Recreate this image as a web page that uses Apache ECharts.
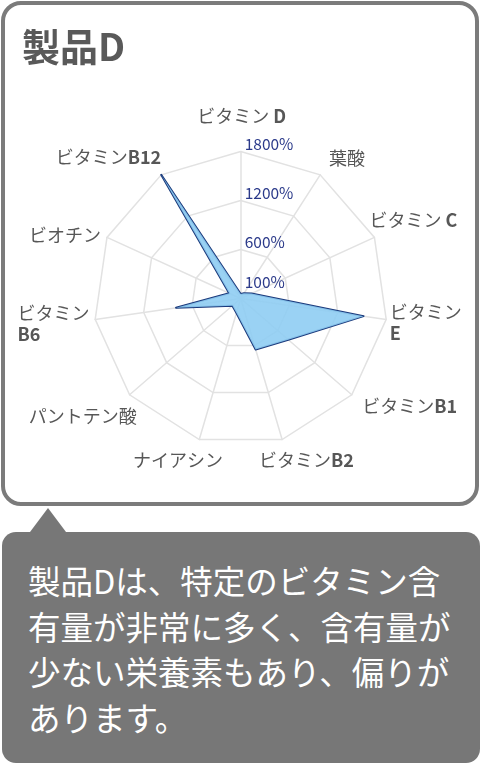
<!DOCTYPE html>
<html>
<head>
<meta charset="utf-8">
<script src="https://cdn.jsdelivr.net/npm/echarts@6/dist/echarts.min.js"></script>
<style>
html,body{margin:0;padding:0;width:481px;height:764px;overflow:hidden;background:#fff;font-family:"Noto Sans CJK JP","Noto Sans",sans-serif;}
#card{position:absolute;left:0.5px;top:0.5px;width:470px;height:497px;border:4.5px solid #7b7b7b;border-radius:20px;}
#tip{position:absolute;left:30px;top:508px;width:0;height:0;border-left:18.5px solid transparent;border-right:18.5px solid transparent;border-bottom:24.5px solid #777;}
#note{position:absolute;left:2px;top:532px;width:478px;height:231px;background:#777;border-radius:14px;}
#text{position:absolute;left:28px;top:557px;color:#fff;font-size:32.5px;line-height:45.7px;white-space:nowrap;}
#chart{position:absolute;left:0;top:0;width:481px;height:510px;}
</style>
</head>
<body>
<div id="card"></div>
<div id="tip"></div>
<div id="note"></div>
<div id="text"></div>
<div id="chart"></div>
<script>
// ---- data (reference order: clockwise from top) ----
const titleText = '製品D';
const names = ['ビタミン D','葉酸','ビタミン C','ビタミン\nE','ビタミンB1','ビタミンB2','ナイアシン','パントテン酸','ビタミン\nB6','ビオチン','ビタミンB12'];
const values = [55, 75, 145, 1520, 770, 650, 185, 135, 800, 155, 1800];
const axisMax = 1800;
const tickValues = [100, 600, 1200, 1800];
const noteLines = ['製品Dは、特定のビタミン含','有量が非常に多く、含有量が','少ない栄養素もあり、偏りが','あります。'];

// ---- style ----
const FONT = '"Noto Sans CJK JP","Noto Sans",sans-serif';
const nudge = [[1,-2],[9,11],[9,-4],[7,-1],[33,-10],[15,-11],[-12,-11],[-22,0],[-9,0],[-12,11],[-35,10]];

document.getElementById('text').innerHTML = noteLines.join('<br>');

// ECharts radar runs counter-clockwise: keep first, reverse the rest
const order = [0].concat(names.map((_, i) => i).slice(1).reverse());

const rich = {};
names.forEach((n, i) => {
  const [dx, dy] = nudge[i];
  const pl = Math.max(0, 2 * dx), pr = Math.max(0, -2 * dx);
  const pt = Math.max(0, 2 * dy), pb = Math.max(0, -2 * dy);
  ['R', 'B'].forEach(w => [0, 1].forEach(f => [0, 1].forEach(l => {
    rich[w + i + '_' + f + l] = {
      fontFamily: FONT, fontSize: 18, fontWeight: w === 'B' ? 'bold' : 'normal',
      color: '#575757', align: 'left', lineHeight: 21,
      padding: [pt, l ? pr : 0, pb, f ? pl : 0]
    };
  })));
});

function richName(name) {
  const i = names.indexOf(name);
  return name.split('\n').map(line => {
    const m = line.match(/^(.*?)([A-Z][0-9]*)$/);
    const toks = m ? [[m[1], 'R'], [m[2], 'B']].filter(t => t[0]) : [[line, 'R']];
    return toks.map((t, j) => '{' + t[1] + i + '_' + (j === 0 ? 1 : 0) + (j === toks.length - 1 ? 1 : 0) + '|' + t[0] + '}').join('');
  }).join('\n');
}

const indicator = order.map((i, k) => {
  const ind = { name: names[i], min: 0, max: axisMax };
  if (k === 0) {
    ind.axisLabel = {
      show: true, customValues: tickValues, formatter: v => v + '%',
      margin: 4, align: 'left', verticalAlign: 'bottom', padding: [0, 0, 0, 8],
      color: '#2b3a8a', fontSize: 15.5, fontFamily: FONT
    };
  }
  return ind;
});

const chart = echarts.init(document.getElementById('chart'), null, { renderer: 'canvas' });
chart.setOption({
  animation: false,
  title: {
    text: titleText, left: 17, top: 23,
    textStyle: { fontFamily: FONT, fontSize: 38, fontWeight: 'bold', color: '#595959' }
  },
  radar: {
    center: [240.7, 298.5], radius: 147, startAngle: 90, splitNumber: 3, shape: 'polygon',
    indicator: indicator,
    nameGap: 33,
    axisName: {
      formatter: richName, rich: rich, align: 'center', verticalAlign: 'middle',
      fontFamily: FONT, fontSize: 18, color: '#575757'
    },
    splitLine: { lineStyle: { color: '#e2e2e2', width: 1.5 } },
    splitArea: { show: false },
    axisLine: { lineStyle: { color: '#e2e2e2', width: 1.5 } },
    axisTick: { show: false },
    axisLabel: { show: false }
  },
  series: [{
    type: 'radar',
    symbol: 'none',
    lineStyle: { color: '#1b3a7c', width: 2 },
    areaStyle: { color: '#8fcdf3', opacity: 0.9 },
    data: [{ value: order.map(i => values[i]), name: titleText }]
  }]
});
</script>
</body>
</html>
